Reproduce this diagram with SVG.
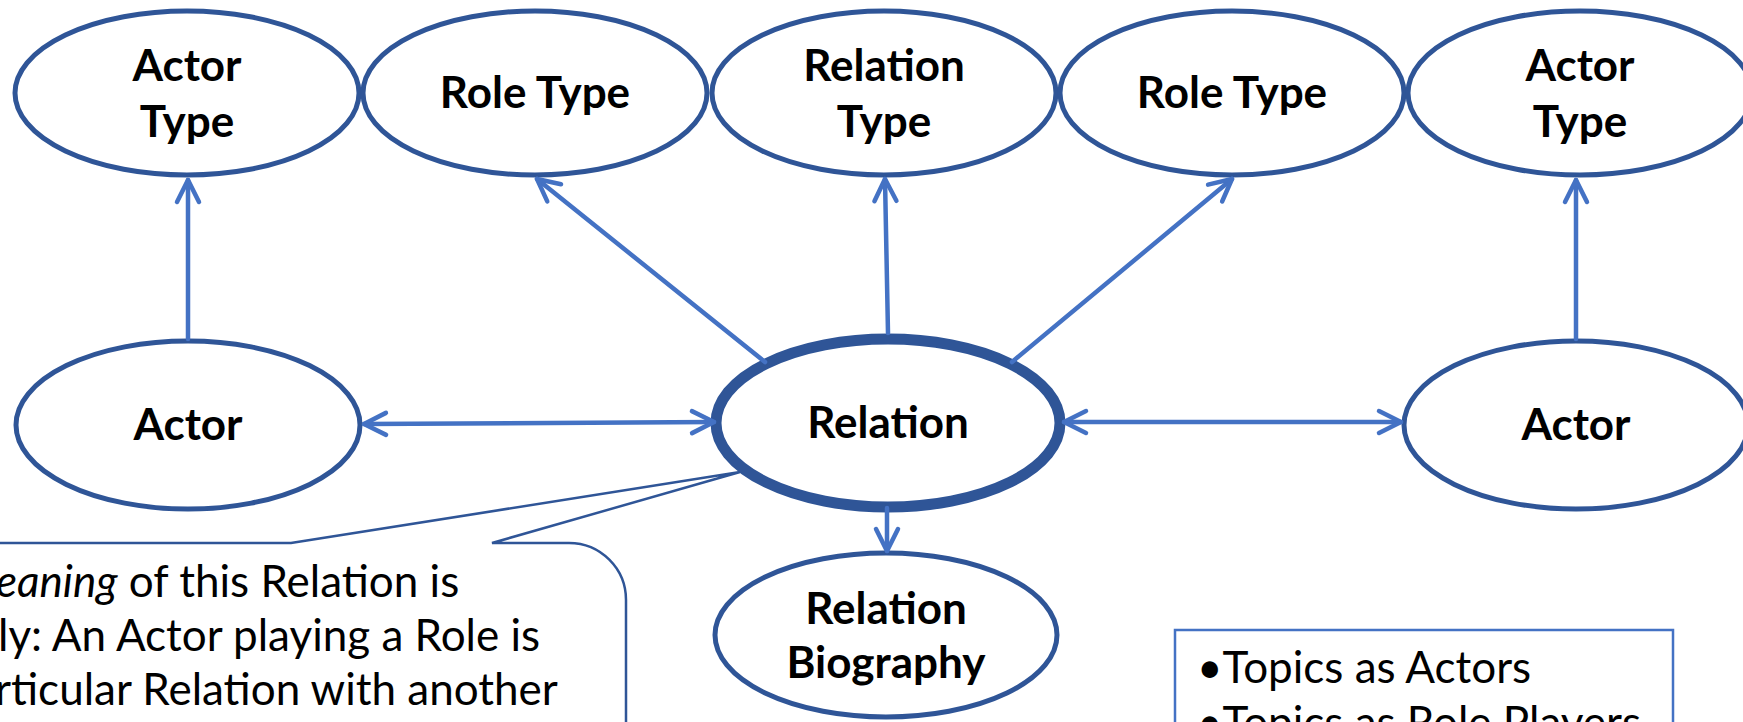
<svg xmlns="http://www.w3.org/2000/svg" width="1743" height="722" viewBox="0 0 1743 722">
<style>
.node ellipse{fill:#fff;stroke:#2F5597;stroke-width:5}
#relation ellipse{stroke-width:11}
.lbl{font-family:Lato,"Liberation Sans",sans-serif;font-weight:700;font-size:44px;fill:#000;text-anchor:middle}
.body{font-family:Lato,"Liberation Sans",sans-serif;font-size:44px;fill:#000}
.conn line{stroke:#4472C4;stroke-width:4.5;stroke-linecap:round;fill:none}
</style>
<defs>
<marker id="ah" markerUnits="userSpaceOnUse" viewBox="-28 -16 32 32" refX="0" refY="0" markerWidth="32" markerHeight="32" orient="auto-start-reverse">
<path d="M-22,-11 L0,0 L-22,11" fill="none" stroke="#4472C4" stroke-width="4.5" stroke-linecap="round" stroke-linejoin="round"/>
</marker>
</defs>
<rect width="1743" height="722" fill="#fff"/>

<g id="callout">
<path d="M-10,543 L291,543 L740,472 L492,543 L569,543 A57,57 0 0 1 626,600 L626,740 L-10,740 Z" fill="#fff" stroke="#2F5597" stroke-width="2.5" stroke-linejoin="miter"/>
<text class="body" x="-4" y="597"><tspan font-style="italic">eaning</tspan> of this Relation is</text>
<text class="body" x="-2" y="651">ly: An Actor playing a Role is</text>
<text class="body" x="-5" y="705">rticular Relation with another</text>
</g>

<g id="topics">
<rect x="1175" y="630" width="498" height="120" fill="#fff" stroke="#4472C4" stroke-width="2.5"/>
<text class="body" x="1197" y="683">•Topics as Actors</text>
<text class="body" x="1197" y="738">•Topics as Role Players</text>
</g>

<g id="actorType1" class="node"><ellipse cx="187" cy="93" rx="172" ry="82"/><text class="lbl" x="187" y="81">Actor</text><text class="lbl" x="187" y="137">Type</text></g>
<g id="roleType1" class="node"><ellipse cx="535" cy="93" rx="172" ry="82"/><text class="lbl" x="535" y="108">Role Type</text></g>
<g id="relationType" class="node"><ellipse cx="884" cy="93" rx="172" ry="82"/><text class="lbl" x="884" y="81">Relation</text><text class="lbl" x="884" y="137">Type</text></g>
<g id="roleType2" class="node"><ellipse cx="1232" cy="93" rx="172" ry="82"/><text class="lbl" x="1232" y="108">Role Type</text></g>
<g id="actorType2" class="node"><ellipse cx="1580" cy="93" rx="172" ry="82"/><text class="lbl" x="1580" y="81">Actor</text><text class="lbl" x="1580" y="137">Type</text></g>

<g id="actor1" class="node"><ellipse cx="188" cy="425" rx="172" ry="84"/><text class="lbl" x="188" y="440">Actor</text></g>
<g id="relation" class="node"><ellipse cx="888" cy="423" rx="172" ry="84"/><text class="lbl" x="888" y="438">Relation</text></g>
<g id="actor2" class="node"><ellipse cx="1576" cy="425" rx="172" ry="84"/><text class="lbl" x="1576" y="440">Actor</text></g>
<g id="relationBiography" class="node"><ellipse cx="886" cy="635" rx="171" ry="82"/><text class="lbl" x="886" y="624">Relation</text><text class="lbl" x="886" y="678">Biography</text></g>

<g id="connectors" class="conn">
<line x1="188" y1="339" x2="188" y2="180" marker-end="url(#ah)"/>
<line x1="765" y1="362" x2="537" y2="179" marker-end="url(#ah)"/>
<line x1="888" y1="333" x2="885" y2="179" marker-end="url(#ah)"/>
<line x1="1012" y1="362" x2="1232" y2="179" marker-end="url(#ah)"/>
<line x1="1576" y1="339" x2="1576" y2="180" marker-end="url(#ah)"/>
<line x1="364" y1="424" x2="714" y2="422" marker-start="url(#ah)" marker-end="url(#ah)"/>
<line x1="1064" y1="422" x2="1401" y2="422" marker-start="url(#ah)" marker-end="url(#ah)"/>
<line x1="887" y1="508" x2="887" y2="551" marker-end="url(#ah)"/>
</g>
</svg>
